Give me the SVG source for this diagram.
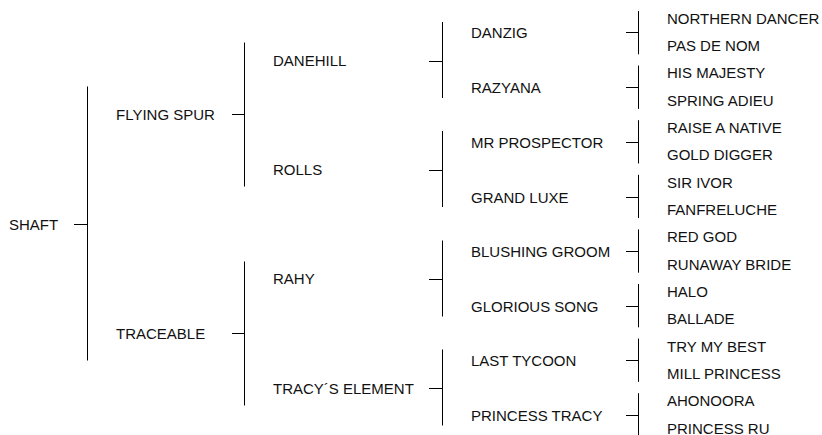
<svg xmlns="http://www.w3.org/2000/svg" width="822" height="435" viewBox="0 0 822 435">
<style>
text{font-family:"Liberation Sans",Arial,sans-serif;font-size:15px;fill:#111}
.c line{stroke:#000;stroke-width:1}
</style>
<rect width="822" height="435" fill="#fff"/>
<g class="c" id="connectors">
<line x1="74" y1="224.5" x2="87.5" y2="224.5"/>
<line x1="87.5" y1="86.5" x2="87.5" y2="360.5"/>
<line x1="232" y1="114.5" x2="244.5" y2="114.5"/>
<line x1="232" y1="333.5" x2="244.5" y2="333.5"/>
<line x1="244.5" y1="42.5" x2="244.5" y2="186.5"/>
<line x1="244.5" y1="261.5" x2="244.5" y2="405.5"/>
<line x1="429" y1="61.5" x2="442.5" y2="61.5"/>
<line x1="429" y1="170.5" x2="442.5" y2="170.5"/>
<line x1="429" y1="279.5" x2="442.5" y2="279.5"/>
<line x1="429" y1="388.5" x2="442.5" y2="388.5"/>
<line x1="442.5" y1="22" x2="442.5" y2="98"/>
<line x1="442.5" y1="131" x2="442.5" y2="207"/>
<line x1="442.5" y1="240.5" x2="442.5" y2="316.5"/>
<line x1="442.5" y1="349.5" x2="442.5" y2="425.5"/>
<line x1="626" y1="32.5" x2="638.5" y2="32.5"/>
<line x1="626" y1="87.5" x2="638.5" y2="87.5"/>
<line x1="626" y1="142.5" x2="638.5" y2="142.5"/>
<line x1="626" y1="197.5" x2="638.5" y2="197.5"/>
<line x1="626" y1="251.5" x2="638.5" y2="251.5"/>
<line x1="626" y1="306.5" x2="638.5" y2="306.5"/>
<line x1="626" y1="360.5" x2="638.5" y2="360.5"/>
<line x1="626" y1="415.5" x2="638.5" y2="415.5"/>
<line x1="638.5" y1="11" x2="638.5" y2="54.3"/>
<line x1="638.5" y1="65.6" x2="638.5" y2="108.9"/>
<line x1="638.5" y1="120.2" x2="638.5" y2="163.5"/>
<line x1="638.5" y1="174.8" x2="638.5" y2="218.1"/>
<line x1="638.5" y1="229.4" x2="638.5" y2="272.7"/>
<line x1="638.5" y1="284" x2="638.5" y2="327.3"/>
<line x1="638.5" y1="338.6" x2="638.5" y2="381.9"/>
<line x1="638.5" y1="393.2" x2="638.5" y2="436.5"/>
</g>
<g id="shaft"><text x="9" y="229.5">SHAFT</text></g>
<g id="flying-spur"><text x="116" y="119.5">FLYING SPUR</text></g>
<g id="traceable"><text x="116" y="338.5">TRACEABLE</text></g>
<g id="danehill"><text x="273" y="65.5">DANEHILL</text></g>
<g id="rolls"><text x="273" y="174.5">ROLLS</text></g>
<g id="rahy"><text x="273" y="284">RAHY</text></g>
<g id="tracys-element"><text x="273" y="393.5">TRACY´S ELEMENT</text></g>
<g id="danzig"><text x="471" y="38">DANZIG</text></g>
<g id="razyana"><text x="471" y="92.5">RAZYANA</text></g>
<g id="mr-prospector"><text x="471" y="148">MR PROSPECTOR</text></g>
<g id="grand-luxe"><text x="471" y="202.5">GRAND LUXE</text></g>
<g id="blushing-groom"><text x="471" y="256.5">BLUSHING GROOM</text></g>
<g id="glorious-song"><text x="471" y="311.5">GLORIOUS SONG</text></g>
<g id="last-tycoon"><text x="471" y="366">LAST TYCOON</text></g>
<g id="princess-tracy"><text x="471" y="420.5">PRINCESS TRACY</text></g>
<g id="northern-dancer"><text x="667" y="23.5">NORTHERN DANCER</text></g>
<g id="pas-de-nom"><text x="667" y="51">PAS DE NOM</text></g>
<g id="his-majesty"><text x="667" y="78.3">HIS MAJESTY</text></g>
<g id="spring-adieu"><text x="667" y="105.6">SPRING ADIEU</text></g>
<g id="raise-a-native"><text x="667" y="133">RAISE A NATIVE</text></g>
<g id="gold-digger"><text x="667" y="160.3">GOLD DIGGER</text></g>
<g id="sir-ivor"><text x="667" y="187.6">SIR IVOR</text></g>
<g id="fanfreluche"><text x="667" y="215">FANFRELUCHE</text></g>
<g id="red-god"><text x="667" y="242.3">RED GOD</text></g>
<g id="runaway-bride"><text x="667" y="269.6">RUNAWAY BRIDE</text></g>
<g id="halo"><text x="667" y="297">HALO</text></g>
<g id="ballade"><text x="667" y="324.3">BALLADE</text></g>
<g id="try-my-best"><text x="667" y="351.6">TRY MY BEST</text></g>
<g id="mill-princess"><text x="667" y="379">MILL PRINCESS</text></g>
<g id="ahonoora"><text x="667" y="406.3">AHONOORA</text></g>
<g id="princess-ru"><text x="667" y="433.6">PRINCESS RU</text></g>
</svg>
